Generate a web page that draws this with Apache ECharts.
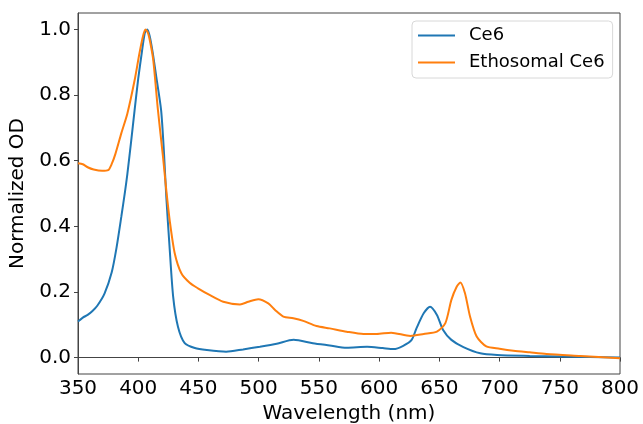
<!DOCTYPE html>
<html>
<head>
<meta charset="utf-8">
<title>Normalized OD</title>
<script src="https://cdn.jsdelivr.net/npm/echarts@6/dist/echarts.min.js"></script>
<style>
    html, body { margin: 0; padding: 0; background: #fff; }
    #chart { width: 643px; height: 424px; }
</style>
</head>
<body>
<div id="chart"></div>
<script>
//Ce6 吸收光谱 (波长 nm / 归一化OD)
var ce6Wl = [350, 354, 358, 362, 366, 372, 378, 382, 386, 389, 391, 394, 397, 400, 403, 405.5, 407.5, 409.5, 412, 415, 419, 421.4, 423.3, 426, 429, 433, 438.6, 447,
    457, 473, 487, 501, 515, 529, 545, 559, 573, 590, 603, 612, 620, 627, 631, 637, 642.3, 648, 653, 660, 670, 684, 698, 725, 750, 775, 800];
var ce6Od = [0.11, 0.122, 0.13, 0.142, 0.158, 0.195, 0.26, 0.335, 0.43, 0.505, 0.56, 0.655, 0.754, 0.85, 0.93, 0.99, 1.0, 0.98, 0.93, 0.855, 0.754, 0.623, 0.49, 0.338, 0.186, 0.094, 0.044, 0.029,
    0.023, 0.018, 0.025, 0.033, 0.042, 0.054, 0.044, 0.037, 0.03, 0.033, 0.029, 0.026, 0.036, 0.054, 0.089, 0.135, 0.155, 0.13, 0.085, 0.054, 0.032, 0.013, 0.008, 0.005, 0.003, 0.002, 0.0];

//Ethosomal Ce6
var ethoWl = [350, 354, 358, 363, 370, 375, 378, 381, 386, 391, 397, 401, 404, 406, 408, 410, 412.5, 416.4, 420.6, 423.3, 426.1, 430.3, 435.8, 442.7, 449.6,
    459.6, 470.6, 484.5, 491.4, 499.7, 508, 513.6, 520.5, 528.8, 537, 548, 559, 573, 587, 598, 610, 626, 637, 648, 655, 660, 664.4, 667.5, 671.3, 675.5, 681, 689, 700, 711.5, 725, 739, 767, 800];
var ethoOd = [0.592, 0.589, 0.58, 0.573, 0.569, 0.571, 0.59, 0.62, 0.684, 0.744, 0.845, 0.927, 0.98, 1.0, 0.99, 0.96, 0.906, 0.753, 0.611, 0.51, 0.419, 0.318, 0.257, 0.228, 0.211,
    0.19, 0.17, 0.162, 0.17, 0.178, 0.165, 0.145, 0.125, 0.12, 0.112, 0.096, 0.089, 0.079, 0.072, 0.072, 0.076, 0.066, 0.072, 0.079, 0.105, 0.176, 0.216, 0.229, 0.196, 0.125, 0.064, 0.034, 0.027, 0.021, 0.016, 0.011, 0.005, -0.002];

//坐标轴刻度
var xTicks = [350, 400, 450, 500, 550, 600, 650, 700, 750, 800];
var yTicks = [0, 0.2, 0.4, 0.6, 0.8, 1.0];

var seriesNames = ['Ce6', 'Ethosomal Ce6'];
var seriesColors = ['#1f77b4', '#ff7f0e'];

//组合成 [x, y]
function toPairs(xs, ys) {
    var data = [];
    for (var i = 0; i < xs.length; i++) {
        data.push([xs[i], ys[i]]);
    }
    return data;
}

var myChart = echarts.init(document.getElementById('chart'));

var font = 'DejaVu Sans';

var option = {
    animation: false,
    grid: {
        left: 78,
        right: 23,
        top: 13,
        bottom: 50,
        outerBoundsMode: 'none',//不自动收缩
        show: true,
        borderColor: '#444',
        borderWidth: 1
    },
    legend: {
        orient: 'vertical',
        left: 412,
        top: 21,
        padding: [4, 8, 5, 6],
        itemWidth: 37,
        itemHeight: 2,
        itemGap: 6,
        icon: 'rect',
        backgroundColor: '#fff',
        borderColor: '#d8d8d8',
        borderWidth: 1,
        borderRadius: 4,
        textStyle: {
            fontFamily: font,
            fontSize: 18,
            color: '#000',
            lineHeight: 21,
            padding: [0, 0, 0, 9]
        },
        data: seriesNames
    },
    xAxis: {
        type: 'value',
        min: 350,
        max: 800,
        interval: 50,
        name: 'Wavelength (nm)',
        nameLocation: 'middle',
        nameGap: 26,
        nameTextStyle: { fontFamily: font, fontSize: 20, color: '#000' },
        splitLine: { show: false },
        axisLine: { lineStyle: { color: '#444', width: 1 } },
        axisTick: { length: 4, lineStyle: { color: '#444' }, customValues: xTicks },
        axisLabel: {
            fontFamily: font,
            fontSize: 20,
            color: '#000',
            margin: 5,
            customValues: xTicks
        }
    },
    yAxis: {
        type: 'value',
        min: -0.05,
        max: 1.05,
        name: 'Normalized OD',
        nameLocation: 'middle',
        nameGap: 38,
        nameTextStyle: { fontFamily: font, fontSize: 20, color: '#000' },
        splitLine: { show: false },
        axisLine: { show: true, lineStyle: { color: '#444', width: 1 } },
        axisTick: { show: true, length: 4, lineStyle: { color: '#444' }, customValues: yTicks },
        axisLabel: {
            fontFamily: font,
            fontSize: 20,
            color: '#000',
            margin: 7,
            customValues: yTicks,
            formatter: function (v) { return v.toFixed(1); }
        }
    },
    series: [
        {
            name: seriesNames[0],
            type: 'line',
            symbol: 'none',
            smooth: 0.25,
            color: seriesColors[0],
            lineStyle: { width: 2, color: seriesColors[0] },
            data: toPairs(ce6Wl, ce6Od)
        },
        {
            name: seriesNames[1],
            type: 'line',
            symbol: 'none',
            smooth: 0.25,
            color: seriesColors[1],
            lineStyle: { width: 2, color: seriesColors[1] },
            data: toPairs(ethoWl, ethoOd)
        }
    ]
};

myChart.setOption(option);
</script>
</body>
</html>
